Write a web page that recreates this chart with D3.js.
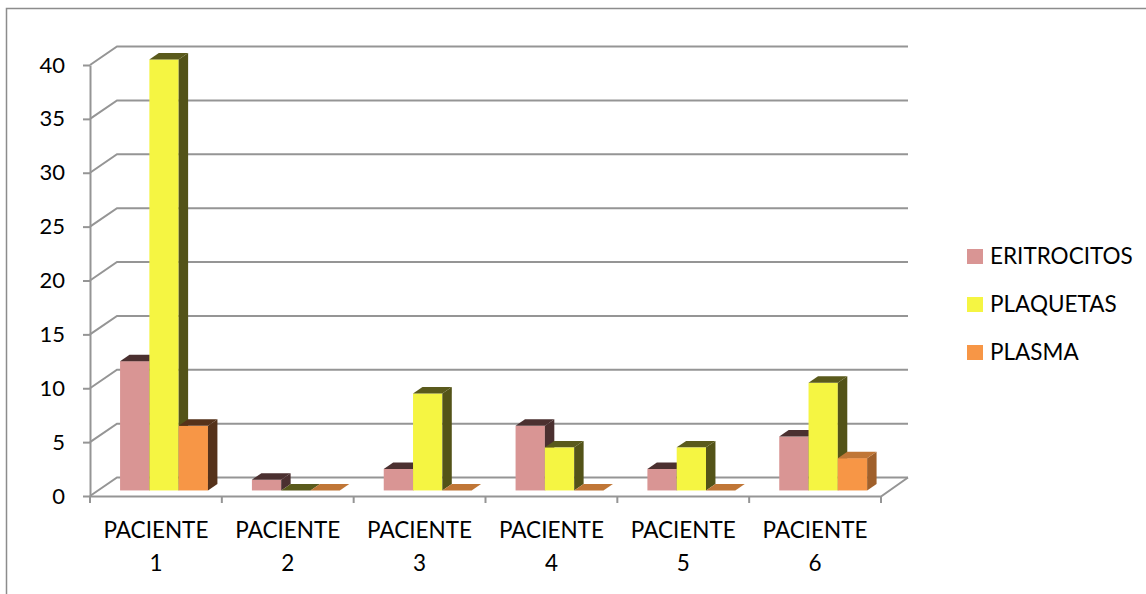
<!DOCTYPE html>
<html><head><meta charset="utf-8">
<script src="https://cdn.jsdelivr.net/npm/d3@7"></script>
<style>
body{margin:0;background:#fff}
svg{display:block}
text{font-family:Lato,"Open Sans",sans-serif;fill:#000}
</style>
</head><body>
<svg id="c" width="1146" height="594"></svg>
<script>
const categories = ["PACIENTE 1","PACIENTE 2","PACIENTE 3","PACIENTE 4","PACIENTE 5","PACIENTE 6"];
const seriesNames = ["ERITROCITOS","PLAQUETAS","PLASMA"];
const eritrocitos = [12,1,2,6,2,5];
const plaquetas   = [40,0,9,4,4,10];
const plasma      = [6,0,0,0,0,3];
const yTicks = [0,5,10,15,20,25,30,35,40];

const values = [eritrocitos, plaquetas, plasma];
const colors = [
  {front:"#d99594", top:"#4b3030", side:"#4b3030"},
  {front:"#f5f542", top:"#5a5a1c", side:"#535318"},
  {front:"#f79646", top:"#c07636", side:"#a0602b"}
];
const darkOrange = {front:"#f79646", top:"#55321a", side:"#55321a"};

const svg = d3.select("#c");
const FS = 22, FS2 = 22.5;

// outer border (only top & left visible)
svg.append("rect").attr("x",6.5).attr("y",8.5).attr("width",1300).attr("height",800)
  .attr("fill","none").attr("stroke","#8c8c8c").attr("stroke-width",1.5);

const x0 = 90, x1 = 881;
const y = d3.scaleLinear().domain([0,40]).range([496,65]);
const DX = 27, DY = -18.5; // depth vector
const fFront = 0.3, fBack = 0.65;

const xc = d3.scaleBand().domain(categories).range([x0,x1]).paddingInner(0).paddingOuter(0);
const xs = d3.scaleBand().domain(seriesNames).range([0,xc.bandwidth()]).paddingInner(0).paddingOuter(0.75);

const gridColor = "#959595";
const g = svg.append("g");

yTicks.forEach(t=>{
  const yy = y(t);
  g.append("path")
    .attr("d", `M${x0},${yy}L${x0+DX},${yy+DY}H${x1+DX}`)
    .attr("fill","none").attr("stroke",gridColor).attr("stroke-width",2);
});
g.append("path")
  .attr("d", `M${x0},${y(0)+0.5}H${x1}L${x1+DX},${y(0)+DY}`)
  .attr("fill","none").attr("stroke",gridColor).attr("stroke-width",2);

d3.range(categories.length+1).forEach(i=>{
  const xx = x0 + i*xc.step();
  g.append("line").attr("x1",xx).attr("x2",xx).attr("y1",y(0)+0.5).attr("y2",y(0)+7)
    .attr("stroke",gridColor).attr("stroke-width",2);
});

const yAxis = d3.axisLeft(y).tickValues(yTicks).tickSize(7).tickSizeOuter(0).tickPadding(18);
const ga = svg.append("g").attr("transform",`translate(${x0},0)`).call(yAxis);
ga.select(".domain").attr("stroke",gridColor).attr("stroke-width",2);
ga.selectAll(".tick line").attr("stroke",gridColor).attr("stroke-width",2);
ga.selectAll(".tick text").attr("font-size",FS).attr("font-family","Lato, 'Open Sans', sans-serif").attr("fill","#000");

const bars = svg.append("g");
categories.forEach((c,ci)=>{
  seriesNames.forEach((s,si)=>{
    const v = values[si][ci];
    let col = colors[si];
    if (si===2 && ci===0) col = darkOrange;
    const fx = xc(c) + xs(s) + fFront*DX;
    const w = xs.bandwidth();
    const yb = y(0) + fFront*DY;
    const yt = y(v) + fFront*DY;
    const ddx = (fBack-fFront)*DX, ddy = (fBack-fFront)*DY;
    if (v>0){
      bars.append("rect").attr("x",fx).attr("y",yt).attr("width",w).attr("height",yb-yt)
        .attr("fill",col.front);
      bars.append("path")
        .attr("d",`M${fx+w},${yb}L${fx+w+ddx},${yb+ddy}L${fx+w+ddx},${yt+ddy}L${fx+w},${yt}Z`)
        .attr("fill",col.side);
    }
    bars.append("path")
      .attr("d",`M${fx},${yt}L${fx+w},${yt}L${fx+w+ddx},${yt+ddy}L${fx+ddx},${yt+ddy}Z`)
      .attr("fill",col.top);
  });
});

categories.forEach(c=>{
  const idx = c.lastIndexOf(" ");
  const l1 = c.slice(0,idx), l2 = c.slice(idx+1);
  const cx = xc(c) + xc.bandwidth()/2;
  const t = svg.append("text").attr("text-anchor","middle").attr("font-size",FS2);
  t.append("tspan").attr("x",cx).attr("y",538).text(l1);
  t.append("tspan").attr("x",cx).attr("y",571).text(l2);
});

const leg = svg.append("g");
seriesNames.forEach((s,i)=>{
  const by = 264 + i*48;
  leg.append("rect").attr("x",967).attr("y",by-15).attr("width",16).attr("height",15)
    .attr("fill",colors[i].front);
  leg.append("text").attr("x",990).attr("y",by).attr("font-size",FS2).text(s);
});
</script>
</body></html>
